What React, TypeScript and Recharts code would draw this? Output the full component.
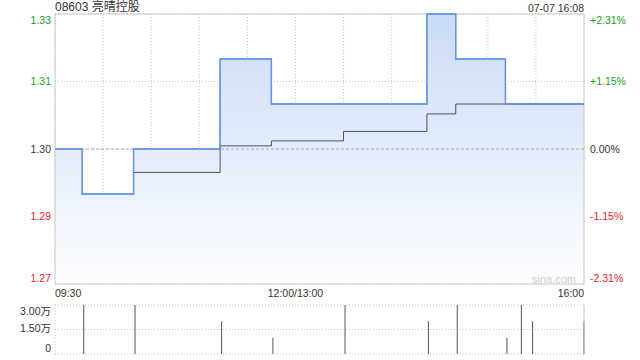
import React from 'react';
import {
  ComposedChart,
  BarChart,
  Area,
  Line,
  Bar,
  XAxis,
  YAxis,
  CartesianGrid,
  ReferenceLine,
  ReferenceArea,
} from 'recharts';

const FONT = '"Liberation Sans", Arial, "Noto Sans CJK SC", sans-serif';

const title = '08603 亮晴控股';
const stamp = '07-07 16:08';
const watermark = 'sina.com';

// minutes since 09:30 (trading minutes, lunch removed)
const minutes = [0, 17, 49, 103, 135, 180, 232, 250, 281, 330];
const prices = [1.3, 1.29, 1.3, 1.32, 1.31, 1.31, 1.33, 1.32, 1.31, 1.31];
const avgPrices = [1.3, null, 1.2948, 1.3007, 1.3018, 1.3039, 1.3078, 1.31, 1.31, 1.31];

const volMinutes = [18, 50, 104, 136, 181, 233, 251, 282, 291, 298, 330];
const volumes = [30000, 30000, 20000, 10000, 30000, 20000, 30000, 10000, 30000, 20000, 20000];

const priceTicks = [1.27, 1.285, 1.3, 1.315, 1.33];
const priceLabels = ['1.27', '1.29', '1.30', '1.31', '1.33'];
const pctTicks = [-2.31, -1.15, 0, 1.15, 2.31];
const pctLabels = ['-2.31%', '-1.15%', '0.00%', '+1.15%', '+2.31%'];
const tickColors = ['#f02424', '#f02424', '#333333', '#1c9f1c', '#1c9f1c'];
const timeTicks = [0, 30, 60, 90, 120, 150, 180, 210, 240, 270, 300, 330];
const timeLabelTicks = [0, 150, 330];
const timeLabels = ['09:30', '12:00/13:00', '16:00'];
const volTicks = [0, 15000, 30000];
const volLabels = ['0', '1.50万', '3.00万'];

const priceData = minutes.map((m, i) => ({ m, price: prices[i], avg: avgPrices[i] }));
const volData = volMinutes.map((m, i) => ({ m, vol: volumes[i] }));

const edgeShift = (i: number, n: number) => (i === n - 1 ? 6 : i === 0 ? -6 : 0);

const LeftTick = (props: any) => {
  const { x, y, payload } = props;
  const i = priceTicks.indexOf(payload.value);
  return (
    <text x={x} y={y + edgeShift(i, priceTicks.length)} dy="0.35em" textAnchor="end" fontSize={10.5} fontFamily={FONT} fill={tickColors[i]}>
      {priceLabels[i]}
    </text>
  );
};

const RightTick = (props: any) => {
  const { x, y, payload } = props;
  const i = pctTicks.indexOf(payload.value);
  return (
    <text x={x} y={y + edgeShift(i, pctTicks.length)} dy="0.35em" textAnchor="start" fontSize={10.5} fontFamily={FONT} fill={tickColors[i]}>
      {pctLabels[i]}
    </text>
  );
};

const TimeTick = (props: any) => {
  const { x, y, payload } = props;
  const i = timeLabelTicks.indexOf(payload.value);
  if (i < 0) return <g />;
  const anchor = i === 0 ? 'start' : i === timeLabelTicks.length - 1 ? 'end' : 'middle';
  return (
    <text x={x} y={y + 13} textAnchor={anchor} fontSize={10.5} fontFamily={FONT} fill="#333">
      {timeLabels[i]}
    </text>
  );
};

const VolTick = (props: any) => {
  const { x, y, payload } = props;
  const i = volTicks.indexOf(payload.value);
  const shift = i === volTicks.length - 1 ? 6 : i === 0 ? -6 : -1;
  return (
    <text x={x} y={y + shift} dy="0.35em" textAnchor="end" fontSize={10.5} fontFamily={FONT} fill="#333">
      {volLabels[i]}
    </text>
  );
};

export default function App() {
  return (
    <div style={{ position: 'absolute', left: 0, top: 0, width: 640, height: 360, background: '#fff', fontFamily: FONT }}>
      <div style={{ position: 'absolute', left: 55, top: 0, fontSize: 12, lineHeight: '14px', color: '#333', whiteSpace: 'nowrap' }}>{title}</div>
      <div style={{ position: 'absolute', right: 56, top: 1, fontSize: 10.5, lineHeight: '14px', color: '#333', whiteSpace: 'nowrap' }}>{stamp}</div>
      <div style={{ position: 'absolute', left: 0, top: 0 }}>
        <ComposedChart width={640} height={300} data={priceData} margin={{ top: 14, right: 0, bottom: 0, left: 0 }}>
          <defs>
            <linearGradient id="areaFill" x1="0" y1="14" x2="0" y2="284" gradientUnits="userSpaceOnUse">
              <stop offset="0%" stopColor="#cbdbf6" />
              <stop offset="100%" stopColor="#fdfeff" />
            </linearGradient>
          </defs>
          <CartesianGrid stroke="#c6c6c6" strokeDasharray="1 2" />
          <XAxis
            dataKey="m"
            type="number"
            domain={[0, 330]}
            ticks={timeTicks}
            height={16}
            tickSize={0}
            tickMargin={0}
            axisLine={false}
            tickLine={false}
            tick={<TimeTick />}
            interval={0}
          />
          <YAxis
            type="number"
            domain={[1.27, 1.33]}
            ticks={priceTicks}
            width={55}
            tickSize={0}
            tickMargin={4}
            axisLine={false}
            tickLine={false}
            tick={<LeftTick />}
            interval={0}
          />
          <YAxis
            yAxisId="right"
            orientation="right"
            type="number"
            domain={[-2.31, 2.31]}
            allowDataOverflow
            ticks={pctTicks}
            width={56}
            tickSize={0}
            tickMargin={6}
            axisLine={false}
            tickLine={false}
            tick={<RightTick />}
            interval={0}
          />
          <Area
            type="stepAfter"
            dataKey="price"
            stroke="#6596e6"
            strokeWidth={1.3}
            fill="url(#areaFill)"
            fillOpacity={1}
            isAnimationActive={false}
            dot={false}
            activeDot={false}
          />
          <ReferenceLine yAxisId="right" y={0} stroke="#aaaaaa" strokeDasharray="3 2" ifOverflow="extendDomain" />
          <Line
            type="stepAfter"
            dataKey="avg"
            stroke="#4b5262"
            strokeWidth={1}
            dot={false}
            activeDot={false}
            isAnimationActive={false}
          />
          <Line
            type="stepAfter"
            dataKey="price"
            stroke="#6596e6"
            strokeWidth={1.3}
            dot={false}
            activeDot={false}
            isAnimationActive={false}
          />
          <ReferenceArea x1={0} x2={330} y1={1.27} y2={1.33} fill="none" stroke="#c8c8c8" strokeWidth={1} />
        </ComposedChart>
      </div>
      <div style={{ position: 'absolute', left: 532, top: 273, fontSize: 11, lineHeight: '13px', color: '#cfcfcf', whiteSpace: 'nowrap' }}>{watermark}</div>
      <div style={{ position: 'absolute', left: 0, top: 300 }}>
        <BarChart width={640} height={60} data={volData} margin={{ top: 5, right: 56, bottom: 6, left: 0 }}>
          <CartesianGrid stroke="#c6c6c6" strokeDasharray="1 2" />
          <XAxis dataKey="m" type="number" domain={[0, 330]} ticks={[0, 330]} hide />
          <YAxis
            type="number"
            domain={[0, 30000]}
            ticks={volTicks}
            width={55}
            tickSize={0}
            tickMargin={4}
            axisLine={false}
            tickLine={false}
            tick={<VolTick />}
            interval={0}
          />
          <Bar dataKey="vol" fill="#555555" barSize={1} isAnimationActive={false} />
          <ReferenceLine x={330} stroke="#c8c8c8" />
        </BarChart>
      </div>
    </div>
  );
}
